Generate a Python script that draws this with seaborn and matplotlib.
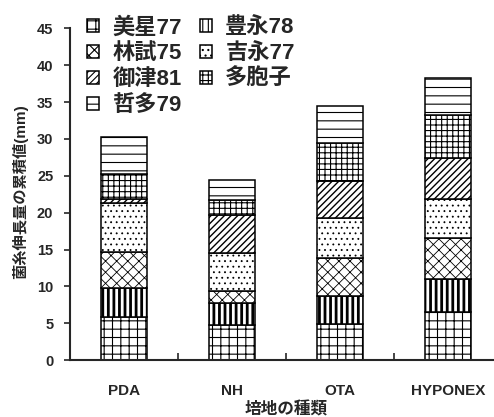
import matplotlib
matplotlib.use("Agg")
import matplotlib.pyplot as plt
import numpy as np
import seaborn as sns

# Cumulative hyphal growth per medium (mm), one list per strain
MEDIA = ["PDA", "NH", "OTA", "HYPONEX"]
STRAINS = ["美星77", "豊永78", "林試75", "吉永77", "御津81", "多胞子", "哲多79"]
BISEI77 = [5.8, 4.8, 4.9, 6.5]
TOYONAGA78 = [4.0, 2.9, 3.8, 4.5]
RINSHI75 = [4.9, 1.7, 5.1, 5.6]
YOSHINAGA77 = [6.6, 5.1, 5.5, 5.3]
MITSU81 = [0.5, 5.2, 5.0, 5.5]
TAHOUSHI = [3.5, 2.0, 5.1, 5.8]
TETTA79 = [5.0, 2.8, 5.1, 5.1]
SERIES = [BISEI77, TOYONAGA78, RINSHI75, YOSHINAGA77, MITSU81, TAHOUSHI, TETTA79]

HATCHES = ["++", "|||", "xxx", "...", "/////", "+++", "--"]
HATCH_LW = [0.8, 2.0, 0.6, 0.6, 1.0, 0.8, 0.8]

sns.set_theme(style="ticks")
plt.rcParams.update({
    "font.family": ["Liberation Sans", "Noto Sans CJK JP"],
    "font.weight": "bold",
    "hatch.linewidth": 0.8,
    "axes.linewidth": 1.5,
})

fig = plt.figure(figsize=(4.94, 4.17), dpi=100)
ax = fig.add_axes([70 / 494, 57 / 417, 432 / 494, 331.5 / 417])

bottom = np.zeros(len(MEDIA))
for name, vals, hatch, hlw in zip(STRAINS, SERIES, HATCHES, HATCH_LW):
    n_before = len(ax.patches)
    with plt.rc_context({"hatch.linewidth": hlw}):
        sns.barplot(x=MEDIA, y=vals, bottom=bottom.copy(), color="white",
                    edgecolor="black", linewidth=1.1, hatch=hatch, width=0.42,
                    errorbar=None, label=name, ax=ax)
    for p in ax.patches[n_before:]:
        if hasattr(p, "set_hatch_linewidth"):
            p.set_hatch_linewidth(hlw)
    bottom += np.array(vals)

ax.set_xlim(-0.5, 3.5)
ax.set_ylim(0, 45)
ax.set_yticks(range(0, 46, 5))
ax.set_ylabel("")
ax.tick_params(axis="y", direction="out", length=4, width=1.2, labelsize=10.5, pad=8)
ax.tick_params(axis="x", which="major", length=0, labelsize=11, pad=17)
ax.set_xticks([0.5, 1.5, 2.5], minor=True)
ax.tick_params(axis="x", which="minor", direction="in", length=5, width=1.2)
for lab in ax.get_xticklabels() + ax.get_yticklabels():
    lab.set_fontweight("bold")
sns.despine(ax=ax)

handles, labels = ax.get_legend_handles_labels()
order = [0, 2, 4, 6, 1, 3, 5]
leg = ax.legend([handles[i] for i in order], [labels[i] for i in order], ncol=2,
                frameon=False, loc="upper left", bbox_to_anchor=(78 / 494, 1 - 8 / 417),
                bbox_transform=fig.transFigure, handlelength=0.55, borderaxespad=0,
                handleheight=0.55, handletextpad=0.6, labelspacing=0.22, columnspacing=0.8,
                prop={"weight": "bold", "size": 16})

fig.text(20 / 494, 1 - 192 / 417, "菌糸伸長量の累積値(mm)", rotation=90,
         ha="center", va="center", fontsize=11, fontweight="bold")
fig.text(286 / 494, 1 - 409 / 417, "培地の種類", ha="center", va="center",
         fontsize=12, fontweight="bold")

fig.savefig("out.png", dpi=100, facecolor="white")
